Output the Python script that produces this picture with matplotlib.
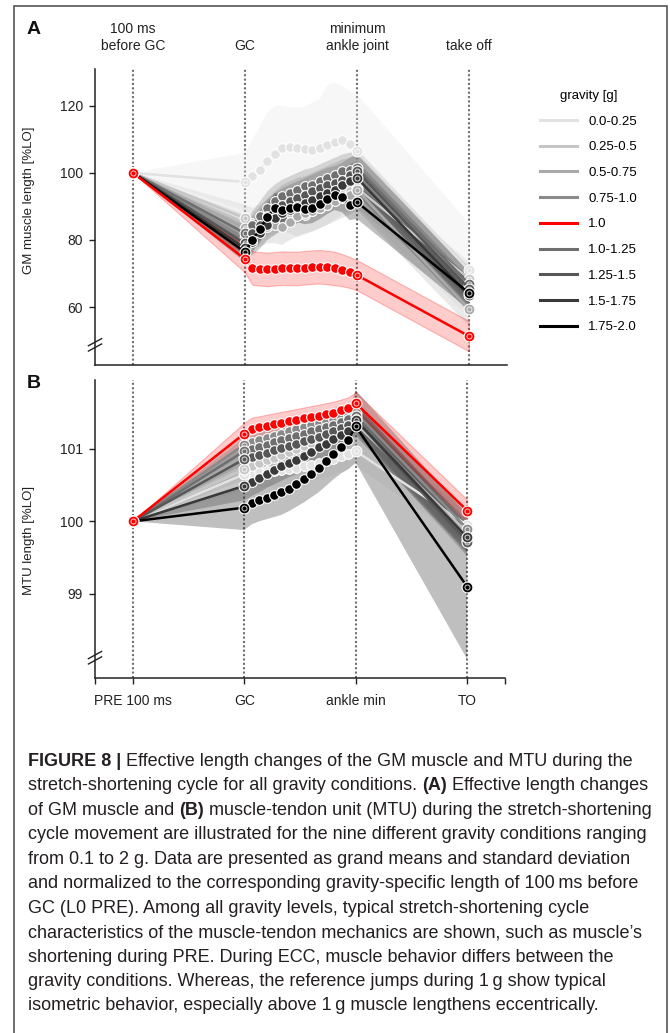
import matplotlib
matplotlib.use("Agg")
import matplotlib.pyplot as plt
import matplotlib.transforms as mtransforms
from matplotlib.lines import Line2D
from matplotlib.patches import Rectangle
import numpy as np

plt.rcParams['font.family'] = ['Liberation Sans', 'DejaVu Sans']

# ---- data -------------------------------------------------------------
groups = ['0.0-0.25', '0.25-0.5', '0.5-0.75', '0.75-1.0', '1.0',
          '1.0-1.25', '1.25-1.5', '1.5-1.75', '1.75-2.0']
colors = ['#e2e2e2', '#c6c6c6', '#a9a9a9', '#8a8a8a', '#ff0000',
          '#6f6f6f', '#575757', '#393939', '#000000']
phase_ticks = ['PRE 100 ms', 'GC', 'ankle min', 'TO']
phase_titles = ['100 ms\nbefore GC', 'GC', 'minimum\nankle joint', 'take off']

# panel A: GM muscle length [%L0]; "mid" = 16 samples from GC to ankle min
gm_pre = 100.0
gm_mid = [
    [97.3, 99.0, 101.0, 103.5, 105.5, 107.5, 107.6, 107.4, 107.0, 106.8, 107.3, 108.2, 109.2, 109.8, 108.5, 106.6],
    [86.5, 85.0, 85.5, 86.5, 87.5, 88.5, 88.0, 87.0, 87.5, 88.5, 89.5, 90.5, 92.0, 93.5, 94.5, 95.5],
    [83.5, 82.5, 83.0, 84.0, 84.5, 84.0, 85.5, 87.0, 88.0, 88.5, 89.5, 90.5, 91.5, 92.5, 93.5, 95.0],
    [80.5, 83.0, 85.5, 87.5, 89.5, 91.0, 92.0, 93.0, 93.5, 94.5, 95.5, 96.5, 97.5, 98.5, 99.0, 100.0],
    [74.3, 71.6, 71.4, 71.2, 71.4, 71.6, 71.5, 71.5, 71.7, 71.9, 72.0, 71.8, 71.5, 71.0, 70.3, 69.5],
    [82.0, 84.5, 87.0, 89.5, 91.5, 93.0, 94.0, 95.0, 96.0, 96.5, 97.5, 98.5, 99.5, 100.5, 101.0, 101.5],
    [79.0, 82.0, 84.5, 87.0, 89.0, 90.5, 91.5, 92.5, 93.5, 94.5, 95.5, 96.5, 97.0, 98.0, 99.5, 100.5],
    [77.5, 79.5, 82.0, 84.5, 86.5, 88.0, 89.0, 90.0, 91.0, 92.0, 93.0, 94.0, 95.0, 96.5, 97.5, 98.5],
    [76.4, 80.0, 83.3, 86.9, 89.5, 89.0, 89.5, 89.8, 89.2, 89.5, 90.7, 92.2, 93.4, 92.8, 90.4, 91.3],
]
gm_to = [71.0, 68.5, 59.4, 66.0, 51.3, 66.9, 65.5, 63.5, 64.2]
gm_sd_mid = [
    [8.7, 11.0, 13.0, 14.5, 14.5, 12.5, 12.0, 12.0, 12.7, 14.2, 14.7, 17.8, 17.8, 16.2, 16.0, 16.9],
    [4.0, 4.5, 5.0, 5.5, 5.5, 6.0, 6.0, 6.0, 6.0, 6.0, 6.0, 6.0, 6.0, 6.0, 6.0, 6.0],
    [4.0, 4.5, 5.0, 5.0, 5.5, 5.5, 5.5, 6.0, 6.0, 6.0, 6.0, 6.0, 6.0, 6.0, 6.0, 6.0],
    [4.0, 4.5, 4.5, 5.0, 5.0, 5.5, 5.5, 5.5, 5.5, 5.5, 5.5, 5.5, 5.5, 5.5, 5.5, 5.5],
    [4.0, 5.0, 5.0, 5.0, 5.0, 5.0, 5.0, 5.0, 5.0, 5.0, 5.0, 5.0, 5.0, 4.8, 4.6, 4.5],
    [3.5, 4.0, 4.5, 5.0, 5.0, 5.0, 5.0, 5.0, 5.0, 5.0, 5.0, 5.0, 5.0, 5.0, 5.0, 5.0],
    [3.5, 4.0, 4.5, 5.0, 5.0, 5.0, 5.0, 5.0, 5.0, 5.0, 5.0, 5.0, 5.0, 5.0, 5.0, 5.0],
    [3.0, 4.0, 4.5, 4.5, 5.0, 5.0, 5.0, 5.0, 5.0, 5.0, 5.0, 5.0, 5.0, 5.0, 5.0, 5.0],
    [3.0, 3.5, 4.0, 4.0, 4.5, 4.5, 4.5, 4.5, 4.5, 4.5, 4.5, 4.5, 4.5, 4.5, 4.5, 5.0],
]
gm_sd_to = [14.0, 5.0, 5.0, 5.0, 4.5, 5.0, 5.0, 5.0, 5.0]

# panel B: MTU length [%L0]
mtu_pre = 100.0
mtu_mid = [
    [100.65, 100.66, 100.68, 100.70, 100.70, 100.71, 100.72, 100.74, 100.76, 100.78, 100.80, 100.83, 100.86, 100.90, 100.93, 100.97],
    [100.72, 100.76, 100.80, 100.85, 100.88, 100.92, 100.96, 101.00, 101.04, 101.08, 101.12, 101.16, 101.20, 101.25, 101.30, 101.35],
    [100.90, 100.95, 100.99, 101.03, 101.07, 101.10, 101.13, 101.17, 101.20, 101.24, 101.27, 101.30, 101.33, 101.36, 101.39, 101.42],
    [101.06, 101.09, 101.12, 101.15, 101.18, 101.21, 101.24, 101.27, 101.30, 101.33, 101.36, 101.38, 101.41, 101.44, 101.47, 101.50],
    [101.21, 101.28, 101.30, 101.32, 101.34, 101.36, 101.38, 101.40, 101.42, 101.44, 101.46, 101.48, 101.50, 101.53, 101.56, 101.63],
    [100.97, 101.00, 101.03, 101.06, 101.09, 101.12, 101.15, 101.18, 101.21, 101.24, 101.27, 101.30, 101.33, 101.37, 101.41, 101.45],
    [100.86, 100.89, 100.92, 100.95, 100.98, 101.01, 101.04, 101.07, 101.11, 101.14, 101.17, 101.21, 101.25, 101.29, 101.33, 101.40],
    [100.49, 100.55, 100.60, 100.66, 100.71, 100.76, 100.81, 100.85, 100.90, 100.96, 101.02, 101.07, 101.13, 101.19, 101.24, 101.40],
    [100.19, 100.26, 100.29, 100.32, 100.36, 100.40, 100.45, 100.51, 100.58, 100.66, 100.74, 100.83, 100.93, 101.02, 101.12, 101.31],
]
mtu_to = [99.95, 99.85, 99.80, 99.90, 100.15, 99.75, 99.72, 99.78, 99.10]
mtu_sd_mid = [
    [0.22, 0.22, 0.22, 0.22, 0.22, 0.22, 0.22, 0.22, 0.22, 0.22, 0.22, 0.22, 0.22, 0.22, 0.22, 0.20],
    [0.15, 0.15, 0.15, 0.15, 0.15, 0.15, 0.15, 0.15, 0.15, 0.15, 0.15, 0.15, 0.15, 0.15, 0.15, 0.15],
    [0.15, 0.15, 0.15, 0.15, 0.15, 0.15, 0.15, 0.15, 0.15, 0.15, 0.15, 0.15, 0.15, 0.15, 0.15, 0.15],
    [0.15, 0.15, 0.15, 0.15, 0.15, 0.15, 0.15, 0.15, 0.15, 0.15, 0.15, 0.15, 0.15, 0.15, 0.15, 0.15],
    [0.15, 0.15, 0.15, 0.15, 0.15, 0.15, 0.15, 0.15, 0.15, 0.15, 0.15, 0.15, 0.15, 0.15, 0.15, 0.15],
    [0.18, 0.18, 0.18, 0.18, 0.18, 0.18, 0.18, 0.18, 0.18, 0.18, 0.18, 0.18, 0.18, 0.18, 0.18, 0.18],
    [0.18, 0.18, 0.18, 0.18, 0.18, 0.18, 0.18, 0.18, 0.18, 0.18, 0.18, 0.18, 0.18, 0.18, 0.18, 0.18],
    [0.20, 0.20, 0.20, 0.20, 0.20, 0.20, 0.20, 0.20, 0.20, 0.20, 0.20, 0.20, 0.20, 0.20, 0.20, 0.22],
    [0.31, 0.30, 0.29, 0.29, 0.30, 0.31, 0.31, 0.31, 0.32, 0.33, 0.34, 0.34, 0.35, 0.36, 0.40, 0.50],
]
mtu_sd_to = [0.25, 0.20, 0.20, 0.20, 0.15, 0.20, 0.20, 0.20, 1.00]

caption_lines = [
    [("FIGURE 8 | ", True), ("Effective length changes of the GM muscle and MTU during the", False)],
    [("stretch-shortening cycle for all gravity conditions. ", False), ("(A)", True), (" Effective length changes", False)],
    [("of GM muscle and ", False), ("(B)", True), (" muscle-tendon unit (MTU) during the stretch-shortening", False)],
    [("cycle movement are illustrated for the nine different gravity conditions ranging", False)],
    [("from 0.1 to 2 g. Data are presented as grand means and standard deviation", False)],
    [("and normalized to the corresponding gravity-specific length of 100\u2009ms before", False)],
    [("GC (L0 PRE). Among all gravity levels, typical stretch-shortening cycle", False)],
    [("characteristics of the muscle-tendon mechanics are shown, such as muscle\u2019s", False)],
    [("shortening during PRE. During ECC, muscle behavior differs between the", False)],
    [("gravity conditions. Whereas, the reference jumps during 1\u2009g show typical", False)],
    [("isometric behavior, especially above 1\u2009g muscle lengthens eccentrically.", False)],
]

# ---- figure -----------------------------------------------------------
W, H = 670, 1033
fig = plt.figure(figsize=(W / 100, H / 100), dpi=100)


def fx(px):
    return px / W


def fy(py):
    return 1 - py / H


ax_a = fig.add_axes([fx(95), fy(365), fx(507 - 95), (365 - 69) / H])
ax_b = fig.add_axes([fx(95), fy(678), fx(505 - 95), (678 - 380) / H])

x_mid = np.linspace(1, 2, 16)
x_all = np.concatenate([[0], x_mid, [3]])
order = [0, 1, 2, 3, 5, 6, 7, 8, 4]   # red reference condition on top


def draw_panel(ax, pre, mid, to, sd_mid, sd_to):
    for i in order:
        y = np.concatenate([[pre], mid[i], [to[i]]])
        sd = np.concatenate([[0], sd_mid[i], [sd_to[i]]])
        c = colors[i]
        if i == 4:
            ax.fill_between(x_all, y - sd, y + sd, facecolor=(1, 0, 0, 0.2),
                            edgecolor=(1, 0, 0, 0.25), lw=0.8, zorder=1.5)
        elif i == 0:
            ax.fill_between(x_all, y - sd, y + sd, facecolor='#e6e6e6',
                            alpha=0.3, lw=0, zorder=1)
        else:
            ax.fill_between(x_all, y - sd, y + sd, facecolor=c, alpha=0.25,
                            lw=0, zorder=1)
    for k, i in enumerate(order):
        y = np.concatenate([[pre], mid[i], [to[i]]])
        c = colors[i]
        z = 3 + k * 0.1
        ax.plot(x_all, y, color=c, lw=1.8, zorder=z)
        ax.plot(x_mid[1:-1], mid[i][1:-1], 'o', ms=7.0, mfc=c, mec='white',
                mew=0.8, zorder=z + 0.02)
        xm = [0, 1, 2, 3]
        ym = [pre, mid[i][0], mid[i][-1], to[i]]
        ax.plot(xm, ym, 'o', ms=7.8, mfc=c, mec='white', mew=0.8, zorder=z + 0.03)
        ax.plot(xm, ym, 'o', ms=3.6, mfc='none', mec='white', mew=0.7,
                alpha=0.8, zorder=z + 0.04)


draw_panel(ax_a, gm_pre, gm_mid, gm_to, gm_sd_mid, gm_sd_to)
draw_panel(ax_b, mtu_pre, mtu_mid, mtu_to, mtu_sd_mid, mtu_sd_to)

for ax in (ax_a, ax_b):
    ax.set_xlim(-0.34, 3.34)
    for xv in range(4):
        ax.axvline(xv, color='#707070', lw=1.5, ls=(0, (1, 1.1)), zorder=0.5)
    for s in ('top', 'right'):
        ax.spines[s].set_visible(False)
    for s in ('left', 'bottom'):
        ax.spines[s].set_color('#222222')
        ax.spines[s].set_linewidth(1.1)
    ax.tick_params(axis='y', direction='out', length=4.2, width=1.0,
                   pad=4.5, labelsize=10, colors='#222222')
    # axis break marks
    for dy in (-0.009, 0.009):
        yb = 0.068 + dy
        ax.plot([-0.016, 0.016], [yb - 0.012, yb + 0.012], color='#222222',
                lw=1.0, transform=ax.transAxes, clip_on=False, zorder=10)

ax_a.set_ylim(42.7, 131.0)
ax_a.set_yticks([60, 80, 100, 120])
ax_a.set_xticks([])
ax_a.set_ylabel('GM muscle length [%LO]', fontsize=9.5, color='#222222')
ax_a.yaxis.set_label_coords(-0.146, 0.557)

ax_b.set_ylim(97.84, 101.95)
ax_b.set_yticks([99, 100, 101])
ax_b.set_xticks([-0.34, 0, 1, 2, 3, 3.34])
ax_b.set_xticklabels([''] + phase_ticks + [''])
ax_b.tick_params(axis='x', direction='out', length=4.2, width=1.0, pad=7,
                 labelsize=10, colors='#222222')
ax_b.set_ylabel('MTU length [%LO]', fontsize=9.5, color='#222222')
ax_b.yaxis.set_label_coords(-0.146, 0.463)

# phase titles above panel A
tr = mtransforms.blended_transform_factory(ax_a.transData, fig.transFigure)
for xv, t in enumerate(phase_titles):
    fig.text(xv, fy(53), t, transform=tr, ha='center', va='bottom',
             fontsize=10, color='#222222', linespacing=1.3)

fig.text(fx(34), fy(30), 'A', fontsize=14, fontweight='bold', ha='center',
         va='center', color='#111111')
fig.text(fx(34), fy(383), 'B', fontsize=14, fontweight='bold', ha='center',
         va='center', color='#111111')

# legend
handles = [Line2D([], [], color=c, lw=2.2) for c in colors]
fig.legend(handles, groups, loc='upper left',
           bbox_to_anchor=(fx(540), fy(90)), frameon=False,
           title='gravity [g]', title_fontsize=9.5, fontsize=9.5,
           handlelength=2.8, handletextpad=0.85, labelspacing=1.02,
           borderpad=0, borderaxespad=0)

# outer frame
fig.patches.append(Rectangle((fx(14), -0.01), fx(667 - 14), fy(6) + 0.01,
                             transform=fig.transFigure, fill=False,
                             edgecolor='#555555', lw=1.2))

# caption
renderer = fig.canvas.get_renderer()
for i, line in enumerate(caption_lines):
    x = fx(28)
    y = fy(766 + i * 24.45)
    for seg, bold in line:
        t = fig.text(x, y, seg, fontsize=13, ha='left', va='baseline',
                     fontweight='bold' if bold else 'normal', color='#231f20')
        x += t.get_window_extent(renderer).width / W

fig.savefig('out.png', dpi=100)
